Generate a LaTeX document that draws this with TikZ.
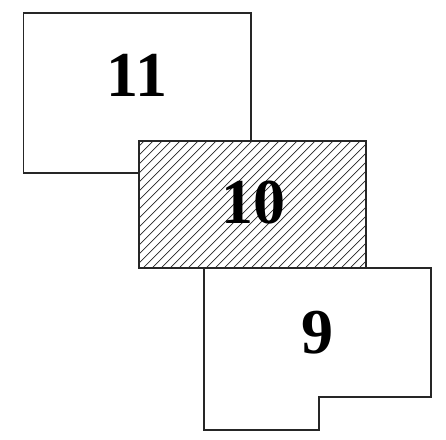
\documentclass[tikz,border=0pt]{standalone}
\usepackage{fontspec}
\setmainfont{Liberation Serif}
\begin{document}
\begin{tikzpicture}[x=1pt,y=-1pt,
  outline/.style={draw=black!85,line width=1.2pt,line join=miter},
  hatchline/.style={draw=black!85,line width=0.7pt},
  numlabel/.style={font=\fontsize{64}{64}\selectfont\bfseries,inner sep=0pt}]
\useasboundingbox (0,0) rectangle (446,439);
% box 11
\draw[outline,fill=white] (23.5,13) rectangle (251,173);
% box 10 (hatched)
\draw[fill=white] (139,141) rectangle (366,268);
\begin{scope}
  \clip (139,141) rectangle (366,268);
  \foreach \i in {0,...,45}{
    \draw[hatchline] (139+9*\i-140,268) -- (139+9*\i,128);
  }
\end{scope}
\draw[outline] (139,141) rectangle (366,268);
% box 9
\draw[outline,fill=white] (204,268) -- (431,268) -- (431,397) -- (319,397) -- (319,430) -- (204,430) -- cycle;
\node[numlabel] (n11) at (137,75) {11};
\node[numlabel] (n10) at (253,203) {10};
\node[numlabel] (n9) at (317,333) {9};
\end{tikzpicture}
\end{document}
